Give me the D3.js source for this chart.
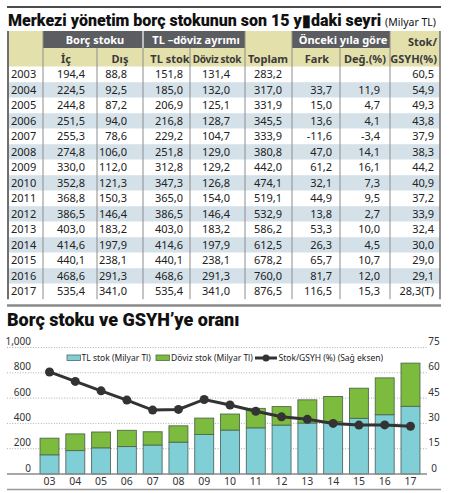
<!DOCTYPE html>
<html>
<head>
<meta charset="utf-8">
<script src="https://cdn.jsdelivr.net/npm/d3@7"></script>
<style>
  body { margin: 0; background: #fff; }
  svg { display: block; font-family: "Noto Sans", sans-serif; }
</style>
</head>
<body>
<script>
// table data (Milyar TL)
var years = ["2003","2004","2005","2006","2007","2008","2009","2010","2011","2012","2013","2014","2015","2016","2017"];
var ic = [194.4, 224.5, 244.8, 251.5, 255.3, 274.8, 330.0, 352.8, 368.8, 386.5, 403.0, 414.6, 440.1, 468.6, 535.4];
var dis = [88.8, 92.5, 87.2, 94.0, 78.6, 106.0, 112.0, 121.3, 150.3, 146.4, 183.2, 197.9, 238.1, 291.3, 341.0];
var tlStok = [151.8, 185.0, 206.9, 216.8, 229.2, 251.8, 312.8, 347.3, 365.0, 386.5, 403.0, 414.6, 440.1, 468.6, 535.4];
var dovizStok = [131.4, 132.0, 125.1, 128.7, 104.7, 129.0, 129.2, 126.8, 154.0, 146.4, 183.2, 197.9, 238.1, 291.3, 341.0];
var toplam = [283.2, 317.0, 331.9, 345.5, 333.9, 380.8, 442.0, 474.1, 519.1, 532.9, 586.2, 612.5, 678.2, 760.0, 876.5];
var fark = [null, 33.7, 15.0, 13.6, -11.6, 47.0, 61.2, 32.1, 44.9, 13.8, 53.3, 26.3, 65.7, 81.7, 116.5];
var degisim = [null, 11.9, 4.7, 4.1, -3.4, 14.1, 16.1, 7.3, 9.5, 2.7, 10.0, 4.5, 10.7, 12.0, 15.3];
var stokGsyh = [60.5, 54.9, 49.3, 43.8, 37.9, 38.3, 44.2, 40.9, 37.2, 33.9, 32.4, 30.0, 29.0, 29.1, 28.3];
var stokGsyhNote = ["","","","","","","","","","","","","","","(T)"];

// chart ticks
var leftTicks = [0, 200, 400, 600, 800, 1000];
var rightTicks = [0, 15, 30, 45, 60, 75];
var yearLabels = years.map(function(y) { return y.slice(2); });

var W = 449, H = 493;
var svg = d3.select("body").append("svg")
    .attr("width", W)
    .attr("height", H);

var tr = d3.formatLocale({decimal: ",", thousands: ".", grouping: [3], currency: ["", ""], minus: "-"});
var f1 = tr.format(".1f");

var darkGrey = "#5c5d60", beige = "#e4e0ac", rowBlue = "#d5e1e9", lineGrey = "#8c8c8c";

// ---------- title ----------
svg.append("line")
    .attr("x1", 7).attr("x2", 441).attr("y1", 7).attr("y2", 7)
    .attr("stroke", "#111").attr("stroke-width", 1.5);

var title = svg.append("text")
    .attr("x", 8).attr("y", 25.5)
    .style("font-family", "Roboto, sans-serif")
    .style("font-weight", 900)
    .style("font-size", "16px")
    .attr("fill", "#111");
title.append("tspan").text("Merkezi yönetim borç stokunun son 15 y\u25AEdaki seyri");
title.append("tspan")
    .attr("dx", 4)
    .style("font-family", "Noto Sans, sans-serif")
    .style("font-weight", 400)
    .style("font-size", "10.5px")
    .text("(Milyar TL)");

// ---------- table ----------
var edges = [8, 43, 97, 143, 190, 245, 292, 340, 390, 440];
var hTop = 31, hMid = 48, bodyTop = 66.7, rowH = 15.5;
var bodyBottom = bodyTop + rowH * years.length;

// header backgrounds
svg.append("rect")
    .attr("x", edges[0]).attr("y", hTop)
    .attr("width", edges[9] - edges[0]).attr("height", bodyTop - hTop)
    .attr("fill", beige);

var groups = [
  {label: "Borç stoku", from: 1, to: 3},
  {label: "TL \u2013döviz ayrımı", from: 3, to: 5},
  {label: "Önceki yıla göre", from: 6, to: 8}
];
svg.selectAll(".grp")
    .data(groups)
    .enter().append("rect")
    .attr("class", "grp")
    .attr("x", function(d) { return edges[d.from]; })
    .attr("y", hTop)
    .attr("width", function(d) { return edges[d.to] - edges[d.from]; })
    .attr("height", hMid - hTop)
    .attr("fill", darkGrey);
svg.selectAll(".grpLabel")
    .data(groups)
    .enter().append("text")
    .attr("class", "grpLabel")
    .attr("x", function(d) { return (edges[d.from] + edges[d.to]) / 2 + 2; })
    .attr("y", hMid - 4.5)
    .attr("text-anchor", "middle")
    .style("font-size", "11px")
    .style("font-weight", 700)
    .attr("fill", "#fff")
    .text(function(d) { return d.label; });

// body rows
years.forEach(function(y, i) {
  svg.append("rect")
      .attr("x", edges[0]).attr("y", bodyTop + i * rowH)
      .attr("width", edges[9] - edges[0]).attr("height", rowH)
      .attr("fill", i % 2 ? rowBlue : "#fff");
});

// column lines
edges.slice(1, 9).forEach(function(x, i) {
  var k = i + 1;
  var fullHeight = [1, 5, 6, 8].indexOf(k) >= 0;
  svg.append("line")
      .attr("x1", x).attr("x2", x)
      .attr("y1", fullHeight ? hTop : hMid).attr("y2", bodyBottom)
      .attr("stroke", lineGrey).attr("stroke-width", 1);
});
svg.append("line")
    .attr("x1", edges[3]).attr("x2", edges[3]).attr("y1", hTop).attr("y2", hMid)
    .attr("stroke", "#fff").attr("stroke-width", 1.2);
svg.append("line")
    .attr("x1", edges[0]).attr("x2", edges[0]).attr("y1", hTop).attr("y2", bodyBottom)
    .attr("stroke", "#6f6f6f").attr("stroke-width", 2);
svg.append("line")
    .attr("x1", edges[9]).attr("x2", edges[9]).attr("y1", hTop).attr("y2", bodyBottom)
    .attr("stroke", "#6f6f6f").attr("stroke-width", 1.5);

// sub headers
var subHeads = [
  {label: "İç", x: 66},
  {label: "Dış", x: 120},
  {label: "TL stok", x: 170},
  {label: "Döviz stok", x: 217, size: 10, ls: -0.3},
  {label: "Toplam", x: 268},
  {label: "Fark", x: 317},
  {label: "Değ.(%)", x: 365}
];
svg.selectAll(".sub")
    .data(subHeads)
    .enter().append("text")
    .attr("class", "sub")
    .attr("x", function(d) { return d.x; })
    .attr("y", 62.5)
    .attr("text-anchor", "middle")
    .style("font-size", function(d) { return (d.size || 11) + "px"; })
    .style("letter-spacing", function(d) { return (d.ls || 0) + "px"; })
    .style("font-weight", 700)
    .attr("fill", "#3a3a3a")
    .text(function(d) { return d.label; });
svg.append("text")
    .attr("x", 437).attr("y", 45.5)
    .attr("text-anchor", "end")
    .style("font-size", "11px").style("font-weight", 700)
    .attr("fill", "#3a3a3a")
    .text("Stok/");
svg.append("text")
    .attr("x", 437).attr("y", 62.5)
    .attr("text-anchor", "end")
    .style("font-size", "11px").style("font-weight", 700)
    .attr("fill", "#3a3a3a")
    .text("GSYH(%)");

// body cells
var columns = [
  {values: ic, right: 85},
  {values: dis, right: 127},
  {values: tlStok, right: 183},
  {values: dovizStok, right: 230},
  {values: toplam, right: 282},
  {values: fark, right: 332},
  {values: degisim, right: 380},
  {values: stokGsyh, right: 434, note: stokGsyhNote}
];
years.forEach(function(y, i) {
  var ty = bodyTop + i * rowH + rowH / 2 + 4;
  svg.append("text")
      .attr("x", 11).attr("y", ty)
      .style("font-size", "11px")
      .attr("fill", "#222")
      .text(y);
  columns.forEach(function(c) {
    var v = c.values[i];
    if (v === null) return;
    svg.append("text")
        .attr("x", c.right).attr("y", ty)
        .attr("text-anchor", "end")
        .style("font-size", "11px")
        .attr("fill", "#222")
        .text(f1(v) + (c.note ? c.note[i] : ""));
  });
});

svg.append("line")
    .attr("x1", 7).attr("x2", 441).attr("y1", 305.5).attr("y2", 305.5)
    .attr("stroke", "#8a8a8a").attr("stroke-width", 2.5);

// ---------- chart ----------
svg.append("text")
    .attr("x", 7).attr("y", 326)
    .style("font-family", "Roboto, sans-serif")
    .style("font-weight", 900)
    .style("font-size", "18px")
    .attr("fill", "#111")
    .text("Borç stoku ve GSYH\u2019ye oranı");

var x = d3.scaleBand()
    .domain(yearLabels)
    .range([33.2, 426.8])
    .padding(0.265);
var yL = d3.scaleLinear().domain([0, 1000]).range([474, 347.5]);
var yR = d3.scaleLinear().domain([0, 75]).range([474, 347.5]);

// gridlines
svg.selectAll(".grid")
    .data(leftTicks.slice(1))
    .enter().append("line")
    .attr("class", "grid")
    .attr("x1", 7).attr("x2", 427)
    .attr("y1", function(d) { return yL(d); })
    .attr("y2", function(d) { return yL(d); })
    .attr("stroke", "#9a9a9a")
    .attr("stroke-width", 0.8)
    .attr("stroke-dasharray", "1,1.6");

// axes
var leftAxis = svg.append("g")
    .attr("transform", "translate(31,0)")
    .call(d3.axisLeft(yL).tickValues(leftTicks).tickSize(0).tickPadding(0).tickFormat(d3.format(",")));
var rightAxis = svg.append("g")
    .attr("transform", "translate(434,0)")
    .call(d3.axisRight(yR).tickValues(rightTicks).tickSize(0).tickPadding(0));
[leftAxis, rightAxis].forEach(function(g) {
  g.select(".domain").remove();
  g.selectAll("text")
      .attr("dy", "-0.3em")
      .style("font-family", "Noto Sans, sans-serif")
      .style("font-size", "10px")
      .attr("fill", "#333");
});
rightAxis.selectAll("text").attr("text-anchor", "middle");

// stacked bars
var stack = yearLabels.map(function(k, i) { return {k: k, tl: tlStok[i], dv: dovizStok[i]}; });
svg.selectAll(".barTL")
    .data(stack)
    .enter().append("rect")
    .attr("class", "barTL")
    .attr("x", function(d) { return x(d.k); })
    .attr("width", x.bandwidth())
    .attr("y", function(d) { return yL(d.tl); })
    .attr("height", function(d) { return yL(0) - yL(d.tl); })
    .attr("fill", "#80cfd6")
    .attr("stroke", "#4e6a66")
    .attr("stroke-width", 0.9);
svg.selectAll(".barDV")
    .data(stack)
    .enter().append("rect")
    .attr("class", "barDV")
    .attr("x", function(d) { return x(d.k); })
    .attr("width", x.bandwidth())
    .attr("y", function(d) { return yL(d.tl + d.dv); })
    .attr("height", function(d) { return yL(d.tl) - yL(d.tl + d.dv); })
    .attr("fill", "#7dbb3e")
    .attr("stroke", "#4e6a4a")
    .attr("stroke-width", 0.9);

// baseline + x labels
svg.append("line")
    .attr("x1", 7).attr("x2", 427).attr("y1", yL(0)).attr("y2", yL(0))
    .attr("stroke", "#8a8a8a").attr("stroke-width", 1.5);
var xAxis = svg.append("g")
    .attr("transform", "translate(0," + yL(0) + ")")
    .call(d3.axisBottom(x).tickSize(0).tickPadding(4));
xAxis.select(".domain").remove();
xAxis.selectAll("text")
    .style("font-family", "Noto Sans, sans-serif")
    .style("font-size", "10.5px")
    .attr("fill", "#333");

svg.append("line")
    .attr("x1", 7).attr("x2", 441).attr("y1", 489.5).attr("y2", 489.5)
    .attr("stroke", "#999").attr("stroke-width", 1.5);

// ratio line (right axis)
var pts = yearLabels.map(function(k, i) { return {k: k, v: stokGsyh[i]}; });
var line = d3.line()
    .x(function(d) { return x(d.k) + x.bandwidth() / 2; })
    .y(function(d) { return yR(d.v); });
svg.append("path")
    .datum(pts)
    .attr("d", line)
    .attr("fill", "none")
    .attr("stroke", "#333")
    .attr("stroke-width", 3);
svg.selectAll(".dot")
    .data(pts)
    .enter().append("circle")
    .attr("class", "dot")
    .attr("r", 4.5)
    .attr("cx", function(d) { return x(d.k) + x.bandwidth() / 2; })
    .attr("cy", function(d) { return yR(d.v); })
    .attr("fill", "#333");

// legend
var lg = svg.append("g").attr("transform", "translate(0,358)");
lg.append("rect").attr("x", 67).attr("y", -3).attr("width", 13.5).attr("height", 5.5)
    .attr("fill", "#80cfd6").attr("stroke", "#4e6a66").attr("stroke-width", 0.8);
lg.append("rect").attr("x", 156).attr("y", -3).attr("width", 13.5).attr("height", 5.5)
    .attr("fill", "#7dbb3e").attr("stroke", "#4e6a4a").attr("stroke-width", 0.8);
lg.append("line").attr("x1", 255).attr("x2", 277).attr("y1", 0).attr("y2", 0)
    .attr("stroke", "#333").attr("stroke-width", 3);
lg.append("circle").attr("cx", 266).attr("cy", 0).attr("r", 3.5).attr("fill", "#333");
var legendText = [
  {x: 81.5, t: "TL stok (Milyar Tl)"},
  {x: 171, t: "Döviz stok (Milyar Tl)"},
  {x: 278.5, t: "Stok/GSYH (%) (Sağ eksen)"}
];
lg.selectAll("text")
    .data(legendText)
    .enter().append("text")
    .attr("x", function(d) { return d.x; })
    .attr("y", 3)
    .style("font-size", "8.5px")
    .attr("fill", "#222")
    .text(function(d) { return d.t; });
</script>
</body>
</html>
